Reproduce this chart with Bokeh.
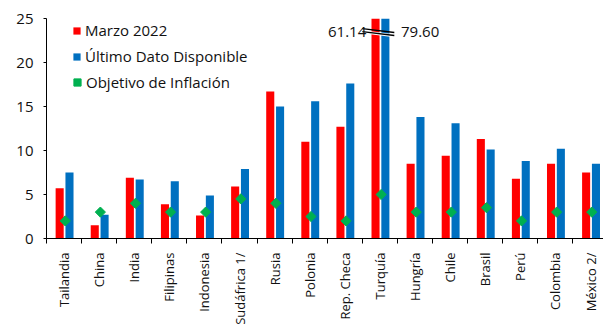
import math
from bokeh.plotting import figure
from bokeh.models import Range1d, FixedTicker, Legend, LegendItem, ColumnDataSource
from bokeh.core.properties import value
from bokeh.embed import file_html
from bokeh.resources import INLINE

categorias = ["Tailandia", "China", "India", "Filipinas", "Indonesia", "Sudáfrica 1/",
              "Rusia", "Polonia", "Rep. Checa", "Turquía", "Hungría", "Chile",
              "Brasil", "Perú", "Colombia", "México 2/"]
marzo_2022 = [5.7, 1.5, 6.9, 3.9, 2.6, 5.9, 16.7, 11.0, 12.7, 61.14, 8.5, 9.4, 11.3, 6.8, 8.5, 7.5]
ultimo_dato = [7.5, 2.7, 6.7, 6.5, 4.9, 7.9, 15.0, 15.6, 17.6, 79.60, 13.8, 13.1, 10.1, 8.8, 10.2, 8.5]
objetivo = [2.0, 3.0, 4.0, 3.0, 3.0, 4.5, 4.0, 2.5, 2.0, 5.0, 3.0, 3.0, 3.5, 2.0, 3.0, 3.0]
y_ticks = [0, 5, 10, 15, 20, 25]

FONT = "Open Sans"
TXT = "#111111"
ROJO, AZUL, VERDE = "#FF0000", "#0070C0", "#00B050"

n = len(categorias)
centros = [i + 0.5 for i in range(n)]
limites = list(range(n + 1))

src = ColumnDataSource(dict(
    x_r=[c - 0.125 for c in centros],
    x_b=[c + 0.155 for c in centros],
    x_d=[c + 0.035 for c in centros],
    marzo=marzo_2022, ultimo=ultimo_dato, objetivo=objetivo,
))

p = figure(width=603, height=327, output_backend="svg", toolbar_location=None,
           x_range=Range1d(0, 15.87), y_range=Range1d(0, 25),
           min_border_left=46, min_border_right=0, min_border_top=18, min_border_bottom=89)
p.background_fill_color = "white"
p.border_fill_color = "white"
p.outline_line_color = None
p.xgrid.grid_line_color = None
p.ygrid.grid_line_color = None

r_rojo = p.vbar(x="x_r", top="marzo", width=0.23, bottom=0, source=src,
                fill_color=ROJO, line_color=None)
r_azul = p.vbar(x="x_b", top="ultimo", width=0.23, bottom=0, source=src,
                fill_color=AZUL, line_color=None)
r_obj = p.scatter(x="x_d", y="objetivo", source=src, marker="square", angle=math.pi / 4,
                  size=7.2, fill_color=VERDE, line_color=VERDE)

# Turquía break marks and labels
it = categorias.index("Turquía")
cx = centros[it]
p.segment(x0=[cx - 0.5], y0=[23.5], x1=[cx + 0.41], y1=[23.05], line_color="white", line_width=3)
p.segment(x0=[cx - 0.5, cx - 0.5], y0=[23.86, 23.52], x1=[cx + 0.41, cx + 0.41], y1=[23.41, 23.07],
          line_color="black", line_width=1.3)
p.text(x=[cx - 0.39], y=[23.45], text=[f"{marzo_2022[it]:.2f}"], text_align="right",
       text_baseline="middle", text_font=value(FONT), text_font_size="15px", text_color=TXT)
p.text(x=[cx + 0.6], y=[23.45], text=[f"{ultimo_dato[it]:.2f}"], text_align="left",
       text_baseline="middle", text_font=value(FONT), text_font_size="15px", text_color=TXT)

# x axis: category names at centres, tick marks between categories
xa = p.xaxis[0]
xa.ticker = FixedTicker(ticks=centros, minor_ticks=limites)
xa.major_label_overrides = {c: lab for c, lab in zip(centros, categorias)}
xa.major_label_orientation = math.pi / 2
xa.major_tick_out = 0
xa.major_tick_in = 0
xa.minor_tick_out = 5
xa.minor_tick_in = 0
xa.minor_tick_line_color = "black"
xa.axis_line_color = "black"
xa.major_label_standoff = 9
xa.major_label_text_font = FONT
xa.major_label_text_font_size = "13px"
xa.major_label_text_color = TXT

# y axis
ya = p.yaxis[0]
ya.ticker = FixedTicker(ticks=y_ticks)
ya.major_tick_out = 3
ya.major_tick_in = 0
ya.minor_tick_out = 0
ya.minor_tick_in = 0
ya.axis_line_color = "black"
ya.major_tick_line_color = "black"
ya.major_label_standoff = 10
ya.major_label_text_font = FONT
ya.major_label_text_font_size = "15px"
ya.major_label_text_color = TXT

leg_a = Legend(items=[LegendItem(label="Marzo 2022", renderers=[r_rojo]),
                      LegendItem(label="Último Dato Disponible", renderers=[r_azul])],
               location=(26, 172), glyph_width=9, glyph_height=9, label_height=20,
               spacing=6, label_standoff=4, padding=0, margin=0,
               border_line_color=None, background_fill_alpha=0,
               label_text_font=FONT, label_text_font_size="15px", label_text_color=TXT)
leg_b = Legend(items=[LegendItem(label="Objetivo de Inflación", renderers=[r_obj])],
               location=(22, 146), glyph_width=18, glyph_height=18, label_height=20,
               label_standoff=0, padding=0, margin=0,
               border_line_color=None, background_fill_alpha=0,
               label_text_font=FONT, label_text_font_size="15px", label_text_color=TXT)
p.add_layout(leg_a, "center")
p.add_layout(leg_b, "center")

open("out.html", "w").write(file_html(p, INLINE))
